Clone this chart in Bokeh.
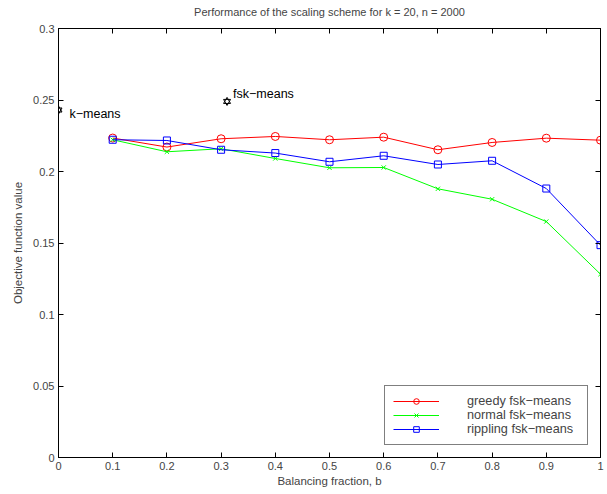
from bokeh.plotting import figure
from bokeh.models import FixedTicker, LinearAxis, Range1d, Legend, LegendItem, CustomLabelingPolicy
from bokeh.core.properties import value
from bokeh.embed import file_html
from bokeh.resources import INLINE

# Balancing fraction b and objective values of the three fsk-means variants
balancing = [0.1, 0.2, 0.3, 0.4, 0.5, 0.6, 0.7, 0.8, 0.9, 1.0]
greedy = [0.2234, 0.2171, 0.2229, 0.2245, 0.2222, 0.2240, 0.2152, 0.2203, 0.2233, 0.2219]
normal = [0.2222, 0.2138, 0.2159, 0.2091, 0.2026, 0.2028, 0.1879, 0.1806, 0.1650, 0.1282]
rippling = [0.2222, 0.2217, 0.2152, 0.2129, 0.2068, 0.2110, 0.2049, 0.2075, 0.1881, 0.1485]

# Reference points for plain k-means and fsk-means
ref_names = ["k\u2212means", "fsk\u2212means"]
ref_x = [0.0, 0.311]
ref_y = [0.243, 0.249]

x_ticks = [0, 0.1, 0.2, 0.3, 0.4, 0.5, 0.6, 0.7, 0.8, 0.9, 1.0]
x_tick_labels = ["0", "0.1", "0.2", "0.3", "0.4", "0.5", "0.6", "0.7", "0.8", "0.9", "1"]
y_ticks = [0, 0.05, 0.1, 0.15, 0.2, 0.25, 0.3]
y_tick_labels = ["0", "0.05", "0.1", "0.15", "0.2", "0.25", "0.3"]

FONT = "Liberation Sans"

p = figure(
    width=607, height=494,
    output_backend="svg", toolbar_location=None,
    x_range=Range1d(0, 1), y_range=Range1d(0, 0.3),
    x_axis_label="Balancing fraction, b",
    y_axis_label="Objective function value",
    title="Performance of the scaling scheme for k = 20, n = 2000",
    min_border_left=58, min_border_right=7, min_border_top=28, min_border_bottom=37,
)
p.frame_width = 542
p.frame_height = 429
p.grid.visible = False
p.outline_line_color = "black"
p.outline_line_width = 1

p.title.align = "center"
p.title.text_font = FONT
p.title.text_font_size = "11px"
p.title.text_font_style = "normal"
p.title.standoff = 0

# drops every tick label (used for the mirrored top/right axes)
no_labels = CustomLabelingPolicy(code="""
    for (const i of indices) {
        indices.unset(i)
    }
    return indices
""")

def style_axis(ax, ticks, labels, show_labels=True):
    ax.ticker = FixedTicker(ticks=ticks)
    ax.major_label_overrides = {t: l for t, l in zip(ticks, labels)}
    ax.minor_tick_line_color = None
    ax.major_tick_in = 5
    ax.major_tick_out = 0
    ax.axis_line_color = "black"
    ax.major_tick_line_color = "black"
    ax.major_label_text_font = FONT
    ax.major_label_text_font_size = "11px"
    ax.major_label_standoff = 4
    ax.axis_label_text_font = FONT
    ax.axis_label_text_font_size = "11.5px"
    ax.axis_label_text_font_style = "normal"
    ax.axis_label_standoff = 4
    if not show_labels:
        ax.major_label_policy = no_labels
        ax.major_label_standoff = 0
        ax.axis_label_standoff = 0

style_axis(p.xaxis[0], x_ticks, x_tick_labels)
style_axis(p.yaxis[0], y_ticks, y_tick_labels)
p.xaxis[0].axis_label_standoff = 2
p.yaxis[0].axis_label_standoff = 6

top_axis = LinearAxis()
style_axis(top_axis, x_ticks, x_tick_labels, show_labels=False)
right_axis = LinearAxis()
style_axis(right_axis, y_ticks, y_tick_labels, show_labels=False)
p.add_layout(top_axis, "above")
p.add_layout(right_axis, "right")

# Series
r_line = p.line(balancing, greedy, line_color="#ff0000", line_width=1)
r_mark = p.scatter(balancing, greedy, marker="circle", size=8, line_color="#ff0000",
                   fill_color=None, line_width=1)
g_line = p.line(balancing, normal, line_color="#00ff00", line_width=1)
g_mark = p.scatter(balancing, normal, marker="x", size=6, line_color="#00ff00", line_width=1)
b_line = p.line(balancing, rippling, line_color="#0000ff", line_width=1)
b_mark = p.scatter(balancing, rippling, marker="square", size=7, line_color="#0000ff",
                   fill_color=None, line_width=1)

# Hexagram markers for the reference points
p.scatter(ref_x, ref_y, marker="triangle", size=7, line_color="black", fill_color=None, line_width=1)
p.scatter(ref_x, ref_y, marker="inverted_triangle", size=7, line_color="black", fill_color=None, line_width=1)
p.text([ref_x[0]], [ref_y[0]], text=[ref_names[0]], x_offset=11, y_offset=4,
       text_font=value(FONT), text_font_size="12.5px", text_baseline="middle", text_color="black")
p.text([ref_x[1]], [ref_y[1]], text=[ref_names[1]], x_offset=6, y_offset=-7,
       text_font=value(FONT), text_font_size="12.5px", text_baseline="middle", text_color="black")

legend = Legend(
    items=[
        LegendItem(label="greedy fsk\u2212means", renderers=[r_line, r_mark]),
        LegendItem(label="normal fsk\u2212means", renderers=[g_line, g_mark]),
        LegendItem(label="rippling fsk\u2212means", renderers=[b_line, b_mark]),
    ],
    location="bottom_right",
    margin=12,
    padding=8,
    spacing=0,
    glyph_width=46,
    glyph_height=14,
    label_height=14,
    label_width=112,
    label_standoff=28,
    label_text_font=FONT,
    label_text_font_size="12.7px",
    border_line_color="black",
    border_line_width=1,
    background_fill_alpha=1.0,
)
p.add_layout(legend, "center")

open("out.html", "w").write(file_html(p, INLINE))
